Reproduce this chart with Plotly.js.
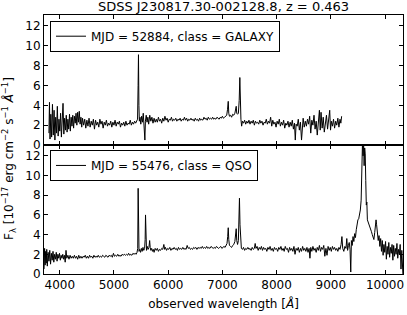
<!DOCTYPE html>
<html>
<head>
<meta charset="utf-8">
<script src="https://cdn.plot.ly/plotly-3.0.1.min.js"></script>
<style>html,body{margin:0;padding:0;background:#fff;}#chart{width:407px;height:315px;}</style>
</head>
<body>
<div id="chart"></div>
<script>
// Galaxy spectrum (MJD 52884) - observed wavelength [Å] and flux
const galaxyWave = [3800,3810,3820,3835,3850,3865,3880,3895,3910,3925,3940,3955,3970,3985,4000,4015,4030,4045,4060,4075,4090,4105,4120,4135,4150,4165,4180,4195,4210,4225,4240,4255,4270,4285,4300,4315,4330,4345,4360,4375,4390,4405,4420,4440,4460,4480,4500,4520,4540,4560,4580,4600,4620,4640,4660,4680,4700,4720,4740,4760,4780,4800,4820,4840,4860,4880,4900,4920,4940,4960,4980,5000,5020,5040,5060,5080,5100,5120,5140,5160,5180,5200,5220,5240,5260,5280,5300,5320,5340,5360,5380,5400,5420,5435,5445,5452,5460,5468,5480,5495,5510,5525,5540,5555,5570,5580,5595,5610,5625,5640,5660,5680,5700,5720,5740,5760,5780,5800,5820,5840,5860,5880,5900,5920,5940,5960,5980,6000,6020,6040,6060,6080,6100,6120,6140,6160,6180,6200,6220,6240,6260,6280,6300,6320,6340,6360,6380,6400,6420,6440,6460,6480,6500,6520,6540,6560,6580,6600,6620,6640,6660,6680,6700,6720,6740,6760,6780,6800,6820,6840,6860,6880,6900,6920,6940,6960,6980,7000,7020,7040,7060,7080,7095,7108,7118,7130,7150,7170,7190,7210,7230,7245,7255,7265,7280,7295,7310,7322,7332,7342,7355,7370,7390,7410,7430,7450,7470,7490,7510,7530,7550,7570,7590,7610,7630,7650,7670,7690,7710,7730,7750,7770,7790,7810,7830,7850,7870,7890,7910,7930,7950,7970,7990,8010,8030,8050,8070,8090,8110,8130,8150,8170,8190,8210,8230,8250,8270,8290,8310,8330,8345,8360,8380,8400,8420,8440,8460,8475,8490,8510,8530,8550,8570,8590,8610,8630,8650,8670,8690,8710,8730,8750,8770,8790,8805,8820,8840,8860,8880,8900,8920,8940,8960,8980,8995,9010,9030,9050,9070,9090,9110,9130,9150,9170,9185,9200];
const galaxyFlux = [1.2,4.3,0.6,3.1,0.8,4.1,1.0,3.5,0.5,2.8,1.2,3.9,0.9,2.6,1.4,3.2,0.8,2.9,4.2,1.1,2.7,1.5,3.0,1.3,2.6,1.6,3.1,1.4,2.8,1.9,3.0,1.7,2.9,2.2,3.2,2.0,3.3,2.3,3.4,2.1,2.8,1.8,2.7,2.0,2.6,1.7,2.5,1.9,2.7,1.8,2.4,2.0,2.6,1.6,2.5,2.0,2.3,1.8,2.6,2.1,2.4,1.7,2.3,2.0,2.5,1.9,2.2,2.0,2.4,1.8,2.3,2.0,2.5,1.9,2.3,2.1,2.4,1.8,2.2,2.0,2.3,1.9,2.4,2.0,2.2,2.1,2.5,2.0,2.3,2.1,2.4,2.2,2.5,2.6,6.0,9.1,4.0,2.4,2.8,2.1,2.9,2.3,3.2,2.2,0.5,2.4,3.0,2.3,2.8,2.1,3.0,2.4,2.8,2.2,2.7,2.3,2.6,2.3,2.8,2.4,2.6,2.2,2.7,2.4,2.9,2.5,2.7,2.3,2.6,2.5,2.8,2.4,2.6,2.5,2.7,2.4,2.6,2.5,2.7,2.4,2.6,2.5,2.8,2.5,2.7,2.4,2.6,2.5,2.7,2.5,2.6,2.4,2.7,2.5,2.6,2.4,2.7,2.5,2.6,2.5,2.8,2.6,2.7,2.5,2.8,2.6,2.7,2.6,2.8,2.6,2.7,2.6,2.8,2.7,2.6,2.8,2.7,2.9,2.7,2.8,2.9,3.0,3.6,4.4,3.2,2.9,3.0,2.8,3.1,3.0,3.2,3.6,3.9,3.2,3.1,3.2,4.5,6.8,4.0,2.6,1.9,2.4,2.2,2.5,2.1,2.4,2.2,2.5,2.1,2.4,2.2,2.5,2.0,2.4,2.2,2.3,2.1,2.5,2.2,2.4,2.0,2.3,2.2,2.6,2.1,2.4,2.2,2.8,1.9,2.5,2.1,2.3,1.8,2.4,2.1,2.6,1.9,2.3,2.0,2.5,1.7,2.2,2.0,2.4,1.8,2.3,1.9,2.5,1.6,2.2,0.5,2.1,1.9,2.6,1.5,2.3,0.5,2.0,2.7,1.8,2.4,1.9,2.6,2.1,2.9,1.2,2.5,2.0,3.0,1.6,2.4,1.0,2.7,3.5,1.5,3.3,1.7,2.8,1.3,2.5,3.0,1.6,2.6,3.5,1.5,2.4,1.9,2.6,1.7,2.4,2.0,2.7,1.8,2.6,2.2,2.9];

// QSO spectrum (MJD 55476)
const qsoWave = [3710,3720,3730,3740,3750,3760,3770,3785,3800,3815,3830,3845,3860,3875,3890,3905,3920,3935,3950,3965,3980,3995,4010,4025,4040,4055,4070,4085,4100,4115,4130,4150,4170,4190,4210,4230,4250,4270,4290,4310,4330,4350,4370,4390,4410,4430,4450,4470,4490,4510,4530,4550,4570,4590,4610,4630,4650,4670,4690,4710,4730,4750,4770,4790,4810,4830,4850,4870,4890,4910,4930,4950,4970,4990,5010,5030,5050,5070,5090,5110,5130,5150,5170,5190,5210,5230,5250,5270,5290,5310,5330,5350,5370,5390,5410,5425,5438,5446,5454,5462,5475,5490,5505,5520,5535,5550,5565,5575,5582,5590,5600,5615,5630,5645,5658,5668,5680,5695,5710,5725,5740,5760,5780,5800,5820,5840,5860,5880,5900,5920,5935,5950,5970,5990,6010,6030,6050,6070,6090,6110,6130,6150,6170,6190,6210,6230,6250,6270,6290,6310,6330,6350,6370,6390,6410,6430,6450,6470,6490,6510,6530,6550,6570,6590,6610,6630,6650,6670,6690,6710,6730,6750,6770,6790,6810,6830,6850,6870,6890,6910,6930,6950,6970,6990,7010,7030,7050,7070,7085,7098,7108,7118,7130,7150,7170,7190,7210,7230,7245,7255,7265,7280,7295,7305,7315,7325,7337,7350,7370,7390,7410,7430,7450,7470,7490,7510,7530,7550,7570,7590,7605,7620,7640,7660,7680,7700,7720,7740,7760,7780,7800,7820,7840,7860,7880,7900,7920,7940,7960,7980,8000,8020,8040,8060,8080,8100,8120,8140,8160,8180,8200,8220,8240,8260,8280,8300,8320,8340,8360,8380,8400,8420,8440,8460,8480,8500,8520,8540,8560,8580,8600,8615,8630,8650,8670,8690,8710,8730,8750,8770,8790,8810,8830,8850,8870,8890,8910,8930,8950,8970,8990,9010,9030,9050,9070,9090,9110,9130,9150,9170,9190,9205,9220,9240,9260,9280,9295,9310,9325,9340,9355,9368,9380,9395,9410,9425,9440,9455,9470,9485,9500,9515,9530,9545,9560,9575,9585,9595,9605,9615,9625,9635,9645,9655,9665,9675,9690,9705,9720,9735,9750,9765,9780,9795,9810,9825,9835,9845,9860,9875,9890,9905,9920,9935,9950,9965,9980,9995,10010,10025,10040,10055,10070,10085,10100,10115,10130,10145,10160,10175,10190,10205,10220,10235,10250,10265,10280,10295,10310,10320,10330];
const qsoFlux = [0.5,2.6,0.9,2.3,1.1,2.5,0.8,2.2,1.3,2.4,1.0,2.1,1.4,2.3,1.2,2.0,1.5,2.2,1.3,2.0,1.6,2.1,1.4,1.9,1.6,2.0,1.5,1.9,1.2,2.4,1.6,1.9,1.5,1.9,1.6,1.8,1.6,1.9,1.6,1.8,1.5,1.9,1.6,1.8,1.6,1.8,1.7,1.9,1.6,1.8,1.6,1.9,1.7,1.8,1.6,1.9,1.7,1.8,1.7,1.9,1.7,1.8,1.7,1.9,1.8,1.7,1.9,1.8,1.7,1.9,1.8,1.9,1.7,2.1,1.8,1.9,1.8,2.0,1.8,1.9,1.8,2.0,1.9,2.0,1.9,2.0,1.9,2.1,1.9,2.0,1.9,2.1,2.0,2.1,2.0,2.2,2.6,8.7,5.0,2.3,2.5,2.2,2.6,2.3,2.7,2.4,2.6,3.5,6.0,2.8,2.4,2.8,2.5,2.7,3.4,2.7,2.4,2.6,2.3,2.5,2.2,2.6,2.4,2.6,2.3,2.5,2.4,2.6,2.5,3.0,2.5,2.7,2.4,2.6,2.5,2.7,2.4,2.6,2.5,2.7,2.5,2.6,2.4,2.7,2.5,2.6,2.5,2.7,2.5,2.6,2.5,2.9,2.6,2.7,2.5,2.6,2.5,2.7,2.6,2.7,2.5,2.7,2.6,2.7,2.6,2.8,2.6,2.7,2.6,2.8,2.6,2.7,2.6,2.8,2.7,2.6,2.7,2.6,2.8,2.7,2.6,2.7,2.8,2.6,2.7,2.8,2.7,2.9,3.1,3.8,4.7,3.5,2.9,2.8,2.7,2.9,3.0,3.3,4.2,4.6,3.4,3.0,3.4,5.5,7.7,5.0,2.9,2.6,2.5,2.7,2.4,2.6,2.5,2.7,2.5,2.6,2.4,2.7,2.5,2.6,3.1,2.6,2.8,2.4,2.7,2.5,2.8,2.4,2.7,2.5,2.6,2.3,2.7,2.5,2.8,2.4,2.6,2.3,2.7,2.5,2.6,2.3,2.7,2.5,2.8,2.4,2.6,2.3,2.8,2.5,2.6,2.2,2.7,2.4,2.6,2.3,2.8,2.0,2.6,2.4,2.7,2.2,2.6,2.3,2.8,2.4,2.6,2.3,2.7,2.2,2.6,1.6,2.7,2.3,2.8,2.4,2.6,2.2,2.7,2.4,2.9,2.3,2.7,2.5,2.9,1.8,2.6,1.9,2.8,2.4,2.7,2.3,2.8,2.5,2.7,2.4,2.6,2.3,2.7,2.5,3.0,3.8,2.6,2.3,2.8,2.6,3.6,2.4,2.9,3.2,2.5,0.2,3.4,2.9,3.8,3.3,4.1,3.7,4.5,5.2,5.5,5.6,6.0,6.5,7.5,10.0,13.5,12.0,13.5,11.0,12.8,12.2,9.5,7.0,7.3,5.5,5.3,5.0,4.9,4.6,4.3,4.0,3.8,3.5,4.2,5.4,5.5,5.0,4.3,3.4,3.9,2.8,3.6,2.3,3.4,1.9,3.0,2.2,3.3,1.5,2.8,2.0,3.2,1.7,2.7,2.1,3.0,1.4,2.9,1.8,2.6,2.0,3.1,1.6,2.5,2.0,3.0,0.5,2.4,1.0,0.0];

const galaxyLabel = 'MJD = 52884, class = GALAXY';
const qsoLabel = 'MJD = 55476, class = QSO';
const xTicks = [4000,5000,6000,7000,8000,9000,10000];
const xTickText = ['4000','5000','6000','7000','8000','9000','10000'];
const yTicks = [0,2,4,6,8,10,12];
const yTickText = ['0','2','4','6','8','10','12'];

const FONT = 'DejaVu Sans, Liberation Sans, sans-serif';

const traces = [
  {x: galaxyWave, y: galaxyFlux, type: 'scatter', mode: 'lines', name: galaxyLabel,
   line: {color: 'black', width: 1}, xaxis: 'x2', yaxis: 'y2', legend: 'legend'},
  {x: qsoWave, y: qsoFlux, type: 'scatter', mode: 'lines', name: qsoLabel,
   line: {color: 'black', width: 1}, xaxis: 'x', yaxis: 'y', legend: 'legend2'}
];

const axBase = {
  showline: true, mirror: 'ticks', linecolor: 'black', linewidth: 1,
  ticks: 'inside', ticklen: 4, tickwidth: 1, tickcolor: 'black',
  showgrid: false, zeroline: false,
  tickfont: {family: FONT, size: 12, color: 'black'}
};
const split = 0.498;
const layout = {
  width: 407, height: 315,
  margin: {l: 44, r: 4, t: 15, b: 41, pad: 0},
  paper_bgcolor: 'white', plot_bgcolor: 'white',
  font: {family: FONT, size: 12, color: 'black'},
  title: {text: 'SDSS J230817.30-002128.8, z = 0.463', font: {family: FONT, size: 13, color: 'black'},
          xref: 'paper', x: 0.5, xanchor: 'center', yref: 'container', y: 0.98, yanchor: 'middle'},
  showlegend: true,
  xaxis: Object.assign({}, axBase, {domain: [0, 1], anchor: 'y', range: [3709, 10332], tickmode: 'array', tickvals: xTicks, ticktext: xTickText,
          title: {text: 'observed wavelength [<i>Å</i>]', font: {family: FONT, size: 12, color: 'black'}, standoff: 8}}),
  xaxis2: Object.assign({}, axBase, {domain: [0, 1], anchor: 'y2', matches: 'x', range: [3709, 10332], tickmode: 'array', tickvals: xTicks, ticktext: xTickText, showticklabels: false}),
  yaxis: Object.assign({}, axBase, {domain: [0, split], anchor: 'x', range: [0, 13.1], tickmode: 'array', tickvals: yTicks, ticktext: yTickText}),
  yaxis2: Object.assign({}, axBase, {domain: [split, 1], anchor: 'x2', range: [0, 13.1], tickmode: 'array', tickvals: yTicks, ticktext: yTickText}),
  legend: {x: 0.0167, y: 0.978, xanchor: 'left', yanchor: 'top', bgcolor: 'white', bordercolor: 'black', borderwidth: 1,
           font: {family: FONT, size: 12, color: 'black'}, itemwidth: 30},
  legend2: {x: 0.0167, y: 0.479, xanchor: 'left', yanchor: 'top', bgcolor: 'white', bordercolor: 'black', borderwidth: 1,
           font: {family: FONT, size: 12, color: 'black'}, itemwidth: 30},
  annotations: [{
    text: 'F<sub>λ</sub> [10<sup>−17</sup> erg cm<sup>−2</sup> s<sup>−1</sup> <i>Å</i><sup>−1</sup>]',
    xref: 'paper', yref: 'paper', x: -0.0975, y: 0.448, xanchor: 'center', yanchor: 'middle',
    textangle: -90, showarrow: false, font: {family: FONT, size: 12, color: 'black'}
  }]
};
Plotly.newPlot('chart', traces, layout, {staticPlot: true, displayModeBar: false});
</script>
</body>
</html>
